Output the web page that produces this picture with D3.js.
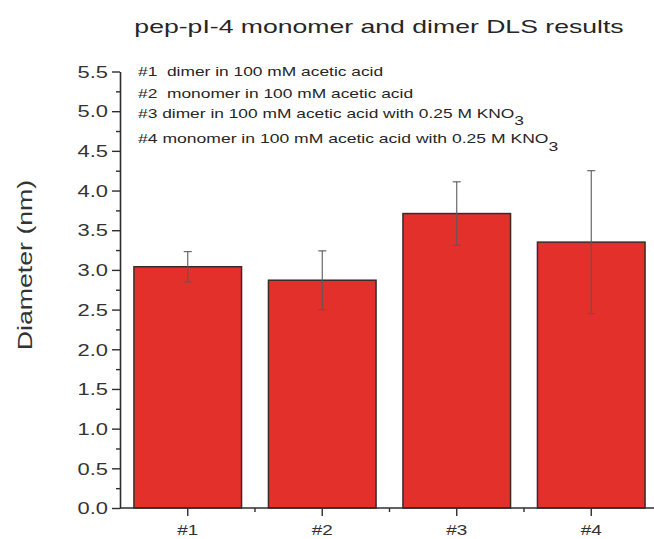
<!DOCTYPE html>
<html>
<head>
<meta charset="utf-8">
<script src="https://cdn.jsdelivr.net/npm/d3@7"></script>
<style>
  html, body { margin: 0; padding: 0; background: #fff; }
  svg text { font-family: "Liberation Sans", Arial, Helvetica, sans-serif; white-space: pre; }
</style>
</head>
<body>
<svg id="chart" width="654" height="539"></svg>
<script>
// Sample labels, mean hydrodynamic diameters (nm) and their standard deviations
const categories = ["#1", "#2", "#3", "#4"];
const diameters = [3.04, 2.87, 3.71, 3.35];
const errors = [0.19, 0.37, 0.40, 0.90];

// Y-axis tick values and labels
const yMajorTicks = [0, 0.5, 1, 1.5, 2, 2.5, 3, 3.5, 4, 4.5, 5, 5.5];
const yMinorTicks = [0.25, 0.75, 1.25, 1.75, 2.25, 2.75, 3.25, 3.75, 4.25, 4.75, 5.25];

// Sample descriptions; the second part of a line is set as a subscript
const legendLines = [
  ["#1  dimer in 100 mM acetic acid"],
  ["#2  monomer in 100 mM acetic acid"],
  ["#3 dimer in 100 mM acetic acid with 0.25 M KNO", "3"],
  ["#4 monomer in 100 mM acetic acid with 0.25 M KNO", "3"]
];

const titleText = "pep-pI-4 monomer and dimer DLS results";
const yLabelText = "Diameter (nm)";

const svg = d3.select("#chart");

const x = d3.scaleBand()
  .domain(categories)
  .range([120.5, 658.5])
  .paddingInner(0.2)
  .paddingOuter(0.1);

const y = d3.scaleLinear()
  .domain([0, 5.5])
  .range([508, 71.5]);

const axisColor = "#2e2e2e";
const textColor = "#333";

// Text in this figure is set in a wide face: stretch along the reading direction
function wideText(sel, px, py, size, stretch, anchor, rotate) {
  sel.attr("x", 0).attr("y", 0)
    .attr("font-size", size)
    .attr("text-anchor", anchor)
    .attr("transform", `translate(${px},${py})${rotate ? ` rotate(${rotate})` : ""} scale(${stretch},1)`);
  return sel;
}

// Bars
svg.append("g")
  .selectAll("rect")
  .data(categories)
  .join("rect")
  .attr("x", d => x(d))
  .attr("width", x.bandwidth())
  .attr("y", (d, i) => y(diameters[i]))
  .attr("height", (d, i) => y(0) - y(diameters[i]))
  .attr("fill", "#e3302a")
  .attr("stroke", "#3a2a28")
  .attr("stroke-width", 1.5);

// Error bars
const eb = svg.append("g")
  .attr("stroke", "#5a5a5a")
  .attr("stroke-width", 1.1)
  .selectAll("g")
  .data(categories)
  .join("g");
const cx = d => x(d) + x.bandwidth() / 2;
eb.append("line")
  .attr("x1", cx).attr("x2", cx)
  .attr("y1", (d, i) => y(diameters[i] + errors[i]))
  .attr("y2", (d, i) => y(diameters[i] - errors[i]));
eb.append("line")
  .attr("x1", d => cx(d) - 4).attr("x2", d => cx(d) + 4)
  .attr("y1", (d, i) => y(diameters[i] + errors[i]))
  .attr("y2", (d, i) => y(diameters[i] + errors[i]));
eb.append("line")
  .attr("x1", d => cx(d) - 4).attr("x2", d => cx(d) + 4)
  .attr("y1", (d, i) => y(diameters[i] - errors[i]))
  .attr("y2", (d, i) => y(diameters[i] - errors[i]));

// Y axis: major ticks with labels, minor ticks in between
const yAxisG = svg.append("g").attr("transform", "translate(120,0)");
yAxisG.call(d3.axisLeft(y).tickValues(yMinorTicks).tickSize(4).tickFormat(""));
yAxisG.call(g => g.select(".domain").remove());
const yMajorG = svg.append("g").attr("transform", "translate(120,0)")
  .call(d3.axisLeft(y).tickValues(yMajorTicks).tickSize(8).tickSizeOuter(0).tickFormat(d3.format(".1f")));
yMajorG.selectAll(".tick text").each(function() {
  wideText(d3.select(this), -12, 0, 16, 1.37, "end")
    .attr("dy", "0.36em")
    .attr("fill", textColor)
    .attr("font-family", null);
});
svg.selectAll(".tick line").attr("stroke", axisColor).attr("stroke-width", 1.4);
yMajorG.select(".domain").attr("stroke", axisColor).attr("stroke-width", 1.6);

// X axis: category ticks at bar centres, minor ticks between bars
const xMinor = categories.slice(1).map(c => x(c) - x.step() * x.paddingInner() / 2);
svg.append("g")
  .selectAll("line")
  .data(xMinor)
  .join("line")
  .attr("x1", d => d).attr("x2", d => d)
  .attr("y1", y(0)).attr("y2", y(0) + 4)
  .attr("stroke", axisColor).attr("stroke-width", 1.4);

const xAxisG = svg.append("g").attr("transform", `translate(0,${y(0)})`)
  .call(d3.axisBottom(x).tickSize(8).tickSizeOuter(0));
xAxisG.select(".domain").attr("stroke", axisColor).attr("stroke-width", 1.6)
  .attr("d", `M120,0H${x.range()[1]}`);
xAxisG.selectAll(".tick line").attr("stroke", axisColor).attr("stroke-width", 1.4);
xAxisG.selectAll(".tick text").each(function() {
  wideText(d3.select(this), 0, 26.5, 15.5, 1.22, "middle")
    .attr("dy", null)
    .attr("fill", textColor)
    .attr("font-family", null);
});

// Title
wideText(svg.append("text").text(titleText), 379, 33, 19, 1.4, "middle")
  .attr("fill", "#262626");

// Y-axis label
wideText(svg.append("text").text(yLabelText), 32, 265, 21, 1.27, "middle", -90)
  .attr("fill", textColor);

// Sample descriptions
const legendBaselines = [76, 98, 117.5, 143];
const legendSizes = [12.5, 12.5, 12.5, 13];
const legendStretch = [1.39, 1.39, 1.39, 1.35];
legendLines.forEach((parts, i) => {
  const t = wideText(svg.append("text"), 138, legendBaselines[i], legendSizes[i], legendStretch[i], "start")
    .attr("fill", "#262626");
  t.append("tspan").text(parts[0]);
  if (parts[1]) {
    t.append("tspan").attr("dy", "0.6em").text(parts[1]);
  }
});
</script>
</body>
</html>
